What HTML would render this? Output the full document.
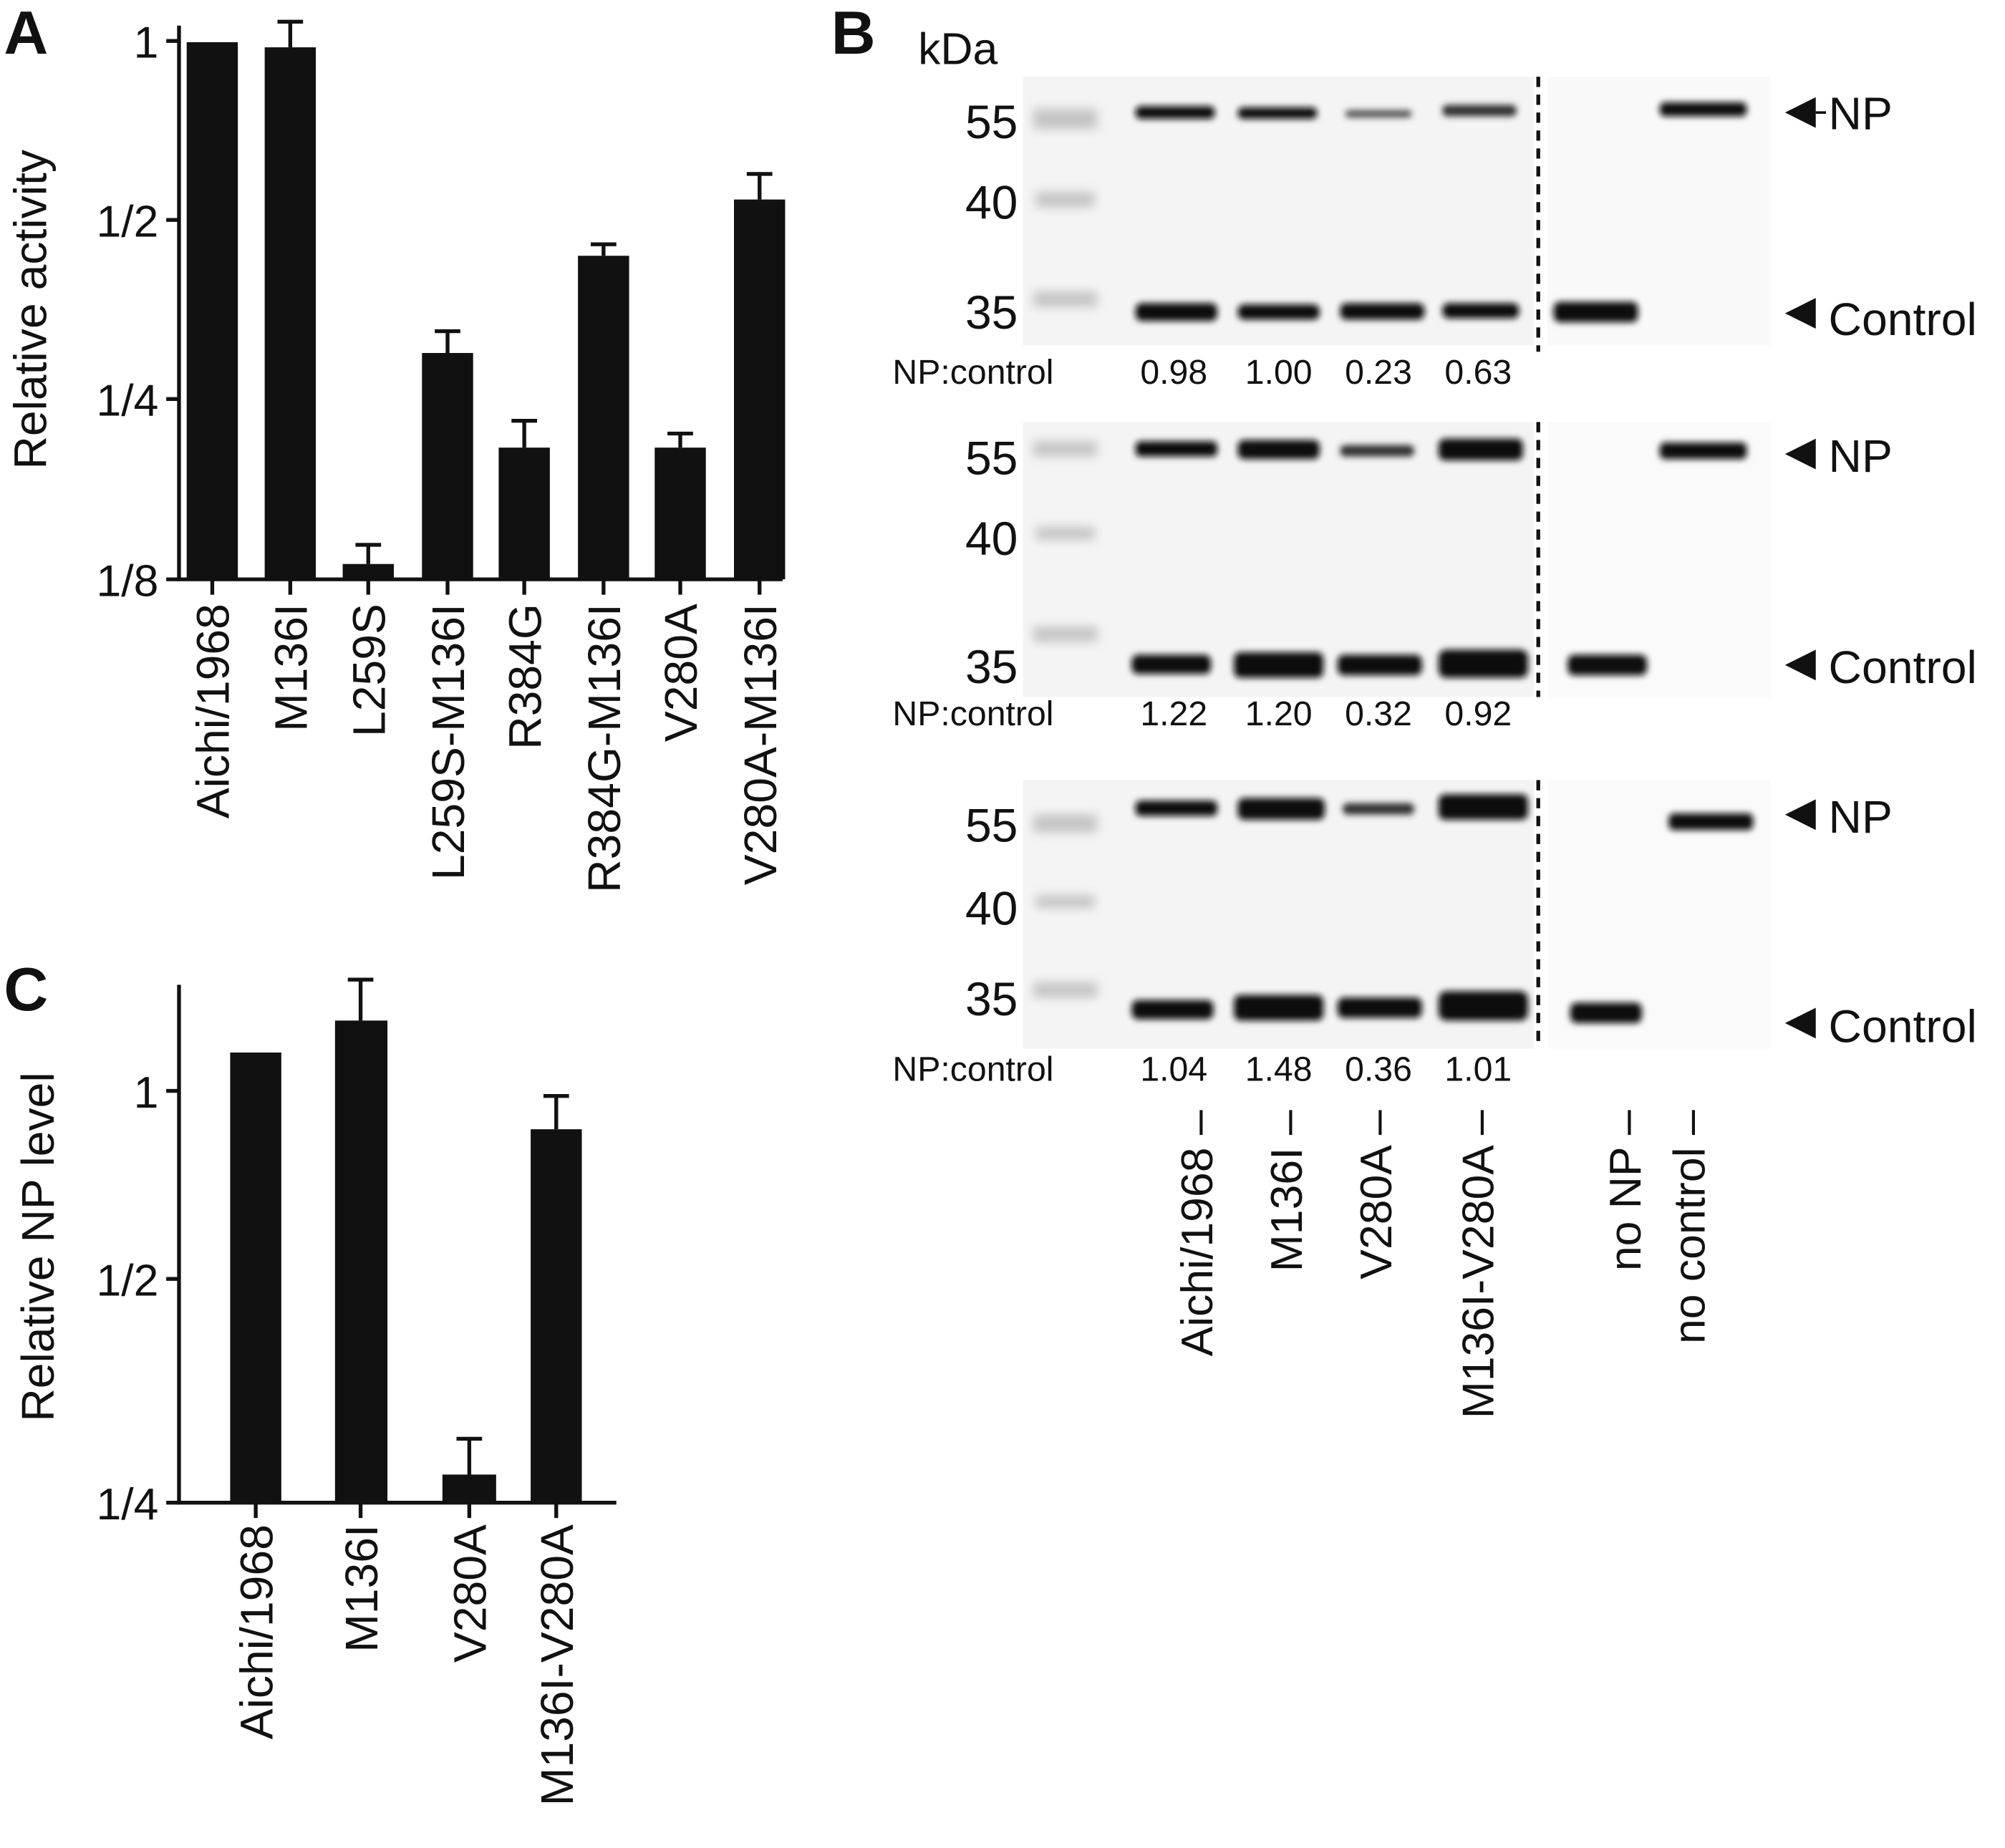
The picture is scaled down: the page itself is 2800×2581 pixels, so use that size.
<!DOCTYPE html>
<html><head><meta charset="utf-8"><style>
html,body{margin:0;padding:0;background:#fff}
svg{display:block}
text{font-family:"Liberation Sans",Arial,sans-serif;fill:#111}
</style></head><body>
<svg width="2800" height="2581" viewBox="0 0 1568 1445" preserveAspectRatio="none" xmlns="http://www.w3.org/2000/svg">
<defs><filter id="bl" x="-20%" y="-100%" width="140%" height="300%"><feGaussianBlur stdDeviation="2.5"/></filter>
<filter id="bl2" x="-20%" y="-100%" width="140%" height="300%"><feGaussianBlur stdDeviation="4"/></filter></defs>
<g fill="#111" stroke="none">
<!-- Panel A -->
<text x="3" y="42" font-size="48" font-weight="bold">A</text>
<text transform="translate(36,242) rotate(-90)" font-size="36" text-anchor="middle">Relative activity</text>
<g stroke="#111" stroke-width="3" fill="none">
<path d="M140 20V453H612"/>
<path d="M130 32H140M130 172H140M130 312H140M130 453H140"/>
<path d="M166 453V465M227 453V465M288 453V465M350 453V465M410 453V465M472 453V465M532 453V465M594 453V465"/>
<path d="M227 37V17M217 17H237M288 441V426M278 426H298M350 276V259M340 259H360M410 350V329M400 329H420M472 200V191M462 191H482M532 350V339M522 339H542M594 156V136M584 136H604"/>
</g>
<text x="124" y="45" font-size="35" text-anchor="end">1</text>
<text x="124" y="185" font-size="35" text-anchor="end">1/2</text>
<text x="124" y="325" font-size="35" text-anchor="end">1/4</text>
<text x="124" y="466" font-size="35" text-anchor="end">1/8</text>
<rect x="146" y="33" width="40" height="420"/><rect x="207" y="37" width="40" height="416"/>
<rect x="268" y="441" width="40" height="12"/><rect x="330" y="276" width="40" height="177"/>
<rect x="390" y="350" width="40" height="103"/><rect x="452" y="200" width="40" height="253"/>
<rect x="512" y="350" width="40" height="103"/><rect x="574" y="156" width="40" height="297"/>
<g font-size="36" text-anchor="end">
<text transform="translate(179,472) rotate(-90)">Aichi/1968</text>
<text transform="translate(240,472) rotate(-90)">M136I</text>
<text transform="translate(301,472) rotate(-90)">L259S</text>
<text transform="translate(363,472) rotate(-90)">L259S-M136I</text>
<text transform="translate(423,472) rotate(-90)">R384G</text>
<text transform="translate(485,472) rotate(-90)">R384G-M136I</text>
<text transform="translate(545,472) rotate(-90)">V280A</text>
<text transform="translate(607,472) rotate(-90)">V280A-M136I</text>
</g>
<!-- Panel C -->
<text x="3" y="790" font-size="48" font-weight="bold">C</text>
<text transform="translate(42,975) rotate(-90)" font-size="36" text-anchor="middle">Relative NP level</text>
<g stroke="#111" stroke-width="3" fill="none">
<path d="M140 770V1175H482"/>
<path d="M130 853H140M130 1000H140M130 1175H140"/>
<path d="M200 1175V1187M282 1175V1187M367 1175V1187M435 1175V1187"/>
<path d="M282 798V766M272 766H292M367 1153V1125M357 1125H377M435 883V857M425 857H445"/>
</g>
<text x="124" y="866" font-size="35" text-anchor="end">1</text>
<text x="124" y="1013" font-size="35" text-anchor="end">1/2</text>
<text x="124" y="1188" font-size="35" text-anchor="end">1/4</text>
<rect x="180" y="823" width="40" height="352"/><rect x="262" y="798" width="41" height="377"/>
<rect x="346" y="1153" width="42" height="22"/><rect x="415" y="883" width="40" height="292"/>
<g font-size="36" text-anchor="end">
<text transform="translate(213,1192) rotate(-90)">Aichi/1968</text>
<text transform="translate(295,1192) rotate(-90)">M136I</text>
<text transform="translate(380,1192) rotate(-90)">V280A</text>
<text transform="translate(448,1192) rotate(-90)">M136I-V280A</text>
</g>
<!-- Panel B -->
<text x="650" y="42" font-size="48" font-weight="bold">B</text>
<text x="718" y="50" font-size="35">kDa</text>
</g>
<!-- blots -->
<g id="blots">
<rect x="800" y="60" width="400" height="210" fill="#f4f4f4"/><rect x="1210" y="60" width="175" height="210" fill="#f9f9f9"/>
<rect x="800" y="330" width="400" height="215" fill="#f4f4f4"/><rect x="1210" y="330" width="175" height="215" fill="#fafafa"/>
<rect x="800" y="610" width="400" height="210" fill="#f4f4f4"/><rect x="1210" y="610" width="175" height="210" fill="#fafafa"/>
<g fill="#c4c4c4" filter="url(#bl2)">
<rect x="808" y="85" width="50" height="16"/><rect x="810" y="150" width="46" height="12"/><rect x="808" y="228" width="50" height="12"/>
<rect x="808" y="345" width="50" height="12"/><rect x="810" y="412" width="46" height="10"/><rect x="808" y="490" width="50" height="12"/>
<rect x="808" y="637" width="50" height="14"/><rect x="810" y="700" width="46" height="10"/><rect x="808" y="768" width="50" height="12"/>
</g>
<g fill="#111" filter="url(#bl)">
<rect x="888" y="83" width="62" height="10" rx="4"/><rect x="968" y="84" width="62" height="9" rx="4"/><rect x="1052" y="86" width="52" height="6" rx="3" fill="#555"/><rect x="1128" y="82" width="58" height="9" rx="4" fill="#333"/><rect x="1298" y="80" width="68" height="11" rx="4"/>
<rect x="888" y="237" width="64" height="14" rx="5"/><rect x="968" y="238" width="64" height="12" rx="5"/><rect x="1048" y="237" width="66" height="13" rx="5"/><rect x="1128" y="237" width="60" height="12" rx="5"/><rect x="1215" y="236" width="66" height="16" rx="5"/>
<rect x="888" y="345" width="64" height="12" rx="4"/><rect x="968" y="344" width="64" height="15" rx="5"/><rect x="1048" y="348" width="58" height="9" rx="4" fill="#333"/><rect x="1125" y="343" width="66" height="17" rx="5"/><rect x="1298" y="346" width="68" height="13" rx="4"/>
<rect x="885" y="512" width="62" height="15" rx="5"/><rect x="965" y="510" width="70" height="20" rx="5"/><rect x="1046" y="512" width="66" height="16" rx="5"/><rect x="1125" y="508" width="70" height="22" rx="6"/><rect x="1226" y="512" width="62" height="16" rx="5"/>
<rect x="888" y="626" width="64" height="12" rx="4"/><rect x="968" y="624" width="68" height="17" rx="5"/><rect x="1050" y="628" width="56" height="9" rx="4" fill="#333"/><rect x="1125" y="621" width="70" height="20" rx="5"/><rect x="1305" y="636" width="66" height="13" rx="4"/>
<rect x="885" y="782" width="64" height="15" rx="5"/><rect x="965" y="778" width="70" height="20" rx="5"/><rect x="1046" y="780" width="66" height="16" rx="5"/><rect x="1125" y="775" width="70" height="23" rx="6"/><rect x="1228" y="784" width="56" height="16" rx="5"/>
</g>
<g stroke="#111" stroke-width="3" stroke-dasharray="8,6">
<path d="M1203 60V275M1203 330V545M1203 610V820"/>
</g>
</g>
<g fill="#111">
<g font-size="37" text-anchor="end">
<text x="796" y="108">55</text><text x="796" y="171">40</text><text x="796" y="257">35</text>
<text x="796" y="371">55</text><text x="796" y="434">40</text><text x="796" y="534">35</text>
<text x="796" y="658">55</text><text x="796" y="723">40</text><text x="796" y="794">35</text>
</g>
<g font-size="27">
<text x="698" y="300">NP:control</text><text x="698" y="567">NP:control</text><text x="698" y="845">NP:control</text>
</g>
<g font-size="27" text-anchor="middle">
<text x="918" y="300">0.98</text><text x="1000" y="300">1.00</text><text x="1078" y="300">0.23</text><text x="1156" y="300">0.63</text>
<text x="918" y="567">1.22</text><text x="1000" y="567">1.20</text><text x="1078" y="567">0.32</text><text x="1156" y="567">0.92</text>
<text x="918" y="845">1.04</text><text x="1000" y="845">1.48</text><text x="1078" y="845">0.36</text><text x="1156" y="845">1.01</text>
</g>
<g>
<path d="M1396 88L1420 76V100Z"/><path d="M1420 88H1428" stroke="#111" stroke-width="2"/>
<path d="M1396 245L1420 233V257Z"/>
<path d="M1396 355L1420 343V367Z"/>
<path d="M1396 520L1420 508V532Z"/>
<path d="M1396 637L1420 625V649Z"/>
<path d="M1396 800L1420 788V812Z"/>
</g>
<g font-size="36">
<text x="1430" y="101">NP</text><text x="1430" y="262">Control</text>
<text x="1430" y="369">NP</text><text x="1430" y="534">Control</text>
<text x="1430" y="651">NP</text><text x="1430" y="815">Control</text>
</g>
<g font-size="35" text-anchor="end">
<text transform="translate(948,868) rotate(-90)">Aichi/1968 –</text>
<text transform="translate(1018,868) rotate(-90)">M136I –</text>
<text transform="translate(1088,868) rotate(-90)">V280A –</text>
<text transform="translate(1168,868) rotate(-90)">M136I-V280A –</text>
<text transform="translate(1283,868) rotate(-90)">no NP –</text>
<text transform="translate(1333,868) rotate(-90)">no control –</text>
</g>
</g>
</svg>
</body></html>
